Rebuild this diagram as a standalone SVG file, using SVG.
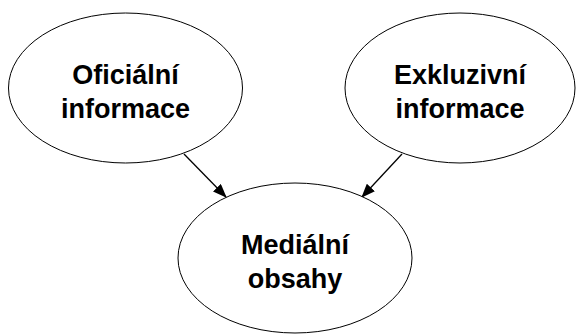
<svg xmlns="http://www.w3.org/2000/svg" width="576" height="335" viewBox="0 0 576 335">
<style>
.node ellipse{fill:#fff;stroke:#000;stroke-width:1}
.node text{font-family:"Liberation Sans",Arial,sans-serif;font-weight:bold;font-size:27px;text-anchor:middle;fill:#000}
.edge{stroke:#000;stroke-width:1.3;fill:none;marker-end:url(#arr)}
</style>
<defs>
<marker id="arr" markerWidth="14" markerHeight="11" refX="13" refY="5.5" orient="auto" markerUnits="userSpaceOnUse">
<path d="M0,0 L14,5.5 L0,11 Z" fill="#000"/>
</marker>
</defs>
<rect width="576" height="335" fill="#fff"/>
<g id="connectors">
<line class="edge" x1="184" y1="154" x2="226" y2="197"/>
<line class="edge" x1="402" y1="154" x2="362" y2="197"/>
</g>
<g id="oficialni" class="node">
<ellipse cx="125.5" cy="88" rx="117" ry="75"/>
<text x="125.5" y="84">Oficiální</text>
<text x="125.5" y="118">informace</text>
</g>
<g id="exkluzivni" class="node">
<ellipse cx="460" cy="88" rx="115" ry="75"/>
<text x="460" y="84">Exkluzivní</text>
<text x="460" y="118">informace</text>
</g>
<g id="medialni" class="node">
<ellipse cx="295" cy="258" rx="117" ry="75"/>
<text x="295" y="254">Mediální</text>
<text x="295" y="288">obsahy</text>
</g>
</svg>
